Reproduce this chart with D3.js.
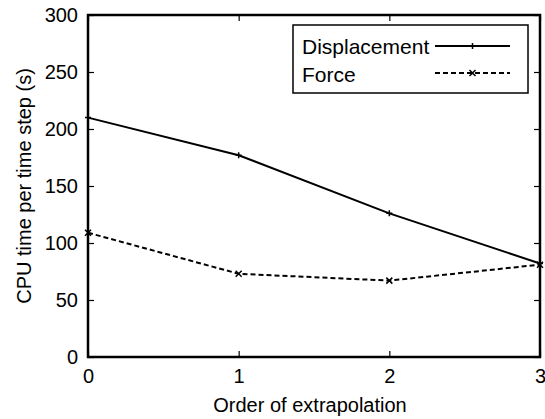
<!DOCTYPE html>
<html>
<head>
<meta charset="utf-8">
<script src="https://cdn.jsdelivr.net/npm/d3@7"></script>
<style>
  body { margin: 0; background: #fff; }
  text { font-family: "Liberation Sans", Arial, sans-serif; fill: #000; }
</style>
</head>
<body>
<div class="chart"></div>
<script>
// CPU time per time step vs order of extrapolation

var orders = [0, 1, 2, 3];
var displacement = [210, 177, 126, 82];
var force = [109, 73, 67, 81];
var yTicks = [0, 50, 100, 150, 200, 250, 300];
var seriesNames = ["Displacement", "Force"];

var svgWidth = 545;
var svgHeight = 419;
var margin = { top: 15, right: 5, bottom: 62, left: 88 };
var width = svgWidth - margin.left - margin.right;
var height = svgHeight - margin.top - margin.bottom;

var svg = d3.select(".chart")
    .append("svg")
    .attr("width", svgWidth)
    .attr("height", svgHeight);

var chart = svg.append("g")
    .attr("transform", "translate(" + margin.left + "," + margin.top + ")");

var x = d3.scaleLinear().domain([0, 3]).range([0, width]);
var y = d3.scaleLinear().domain([0, 300]).range([height, 0]);

// ticks, pointing inward on all four sides
function styleAxis(g) {
    g.select(".domain").remove();
    g.selectAll(".tick line").attr("stroke", "#000").attr("stroke-width", 1.2);
    g.selectAll(".tick text").style("font-size", "20px");
}

chart.append("g")
    .attr("transform", "translate(0," + height + ")")
    .call(d3.axisBottom(x).tickValues(orders).tickFormat(d3.format("d")).tickSizeInner(-6).tickPadding(12))
    .call(styleAxis);

chart.append("g")
    .call(d3.axisTop(x).tickValues(orders).tickFormat("").tickSizeInner(-6))
    .call(styleAxis);

chart.append("g")
    .call(d3.axisLeft(y).tickValues(yTicks).tickFormat(d3.format("d")).tickSizeInner(-6).tickPadding(10))
    .call(styleAxis);

chart.append("g")
    .attr("transform", "translate(" + width + ",0)")
    .call(d3.axisRight(y).tickValues(yTicks).tickFormat("").tickSizeInner(-6))
    .call(styleAxis);

// series lines
var line = d3.line()
    .x(function(d, i) { return x(orders[i]); })
    .y(function(d) { return y(d); });

chart.append("path")
    .datum(displacement)
    .attr("fill", "none")
    .attr("stroke", "#000")
    .attr("stroke-width", 2)
    .attr("d", line);

chart.append("path")
    .datum(force)
    .attr("fill", "none")
    .attr("stroke", "#000")
    .attr("stroke-width", 2)
    .attr("stroke-dasharray", "5,3")
    .attr("d", line);

// markers
function plus(g, cx, cy) {
    g.append("path")
        .attr("d", "M" + (cx - 3) + "," + cy + "H" + (cx + 3) + "M" + cx + "," + (cy - 3) + "V" + (cy + 3))
        .attr("stroke", "#000").attr("stroke-width", 1.5);
}
function cross(g, cx, cy) {
    g.append("path")
        .attr("d", "M" + (cx - 3) + "," + (cy - 3) + "L" + (cx + 3) + "," + (cy + 3) +
                   "M" + (cx - 3) + "," + (cy + 3) + "L" + (cx + 3) + "," + (cy - 3))
        .attr("stroke", "#000").attr("stroke-width", 1.5);
}

displacement.forEach(function(d, i) { plus(chart, x(orders[i]), y(d)); });
force.forEach(function(d, i) { cross(chart, x(orders[i]), y(d)); });

// frame
chart.append("rect")
    .attr("width", width)
    .attr("height", height)
    .attr("fill", "none")
    .attr("stroke", "#000")
    .attr("stroke-width", 2.5);

// legend
var legend = svg.append("g");
legend.append("rect")
    .attr("x", 293).attr("y", 25)
    .attr("width", 235).attr("height", 68)
    .attr("fill", "#fff")
    .attr("stroke", "#000")
    .attr("stroke-width", 1.5);

legend.append("text").attr("x", 302).attr("y", 54).style("font-size", "21px").text(seriesNames[0]);
legend.append("text").attr("x", 302).attr("y", 82).style("font-size", "21px").text(seriesNames[1]);

legend.append("line")
    .attr("x1", 435).attr("x2", 510).attr("y1", 46).attr("y2", 46)
    .attr("stroke", "#000").attr("stroke-width", 2);
plus(legend, 472.5, 46);

legend.append("line")
    .attr("x1", 435).attr("x2", 510).attr("y1", 73).attr("y2", 73)
    .attr("stroke", "#000").attr("stroke-width", 2)
    .attr("stroke-dasharray", "5,3");
cross(legend, 472.5, 73);

// axis labels
svg.append("text")
    .attr("x", margin.left + width / 2 - 4)
    .attr("y", 412)
    .attr("text-anchor", "middle")
    .style("font-size", "20px")
    .text("Order of extrapolation");

svg.append("text")
    .attr("transform", "translate(31," + (margin.top + height / 2) + ") rotate(-90)")
    .attr("text-anchor", "middle")
    .style("font-size", "20px")
    .text("CPU time per time step (s)");
</script>
</body>
</html>
